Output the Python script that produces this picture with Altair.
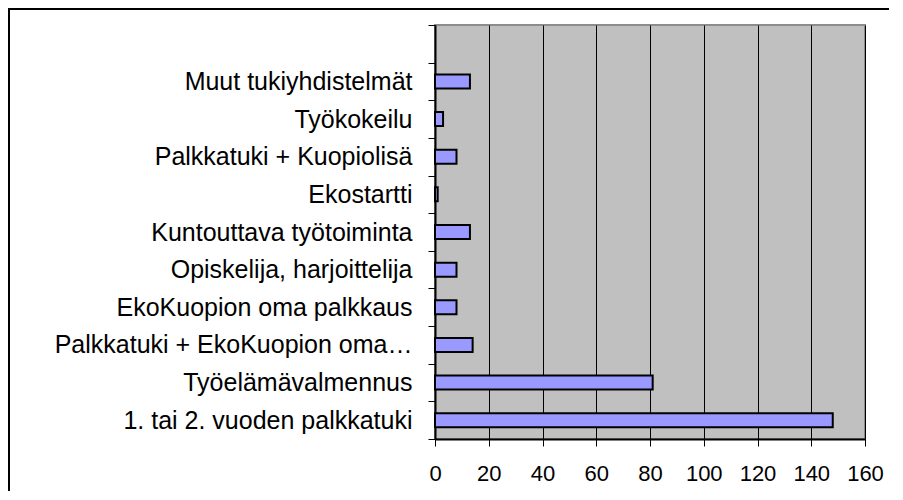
import altair as alt
import pandas as pd

categories = [
    "Muut tukiyhdistelmät",
    "Työkokeilu",
    "Palkkatuki + Kuopiolisä",
    "Ekostartti",
    "Kuntouttava työtoiminta",
    "Opiskelija, harjoittelija",
    "EkoKuopion oma palkkaus",
    "Palkkatuki + EkoKuopion oma palkkaus",
    "Työelämävalmennus",
    "1. tai 2. vuoden palkkatuki",
]
values = [13, 3, 8, 1, 13, 8, 8, 14, 81, 148]
x_ticks = [0, 20, 40, 60, 80, 100, 120, 140, 160]

df = pd.DataFrame({"kategoria": categories, "arvo": values})
domain = [" "] + categories

FONT = "Liberation Sans"

bars = alt.Chart(df).mark_bar(
    height=14, fill="#9999ff", stroke="black", strokeWidth=2
).encode(
    x=alt.X(
        "arvo:Q",
        scale=alt.Scale(domain=[0, 160], nice=False, zero=True),
        axis=alt.Axis(
            values=x_ticks, title=None, grid=True, gridColor="black", gridWidth=1,
            domainColor="black", domainWidth=2, tickColor="black", tickSize=7,
            labelFontSize=22, labelFont=FONT, labelColor="black", labelPadding=17,
            labelFlush=False,
        ),
    ),
    y=alt.Y(
        "kategoria:N",
        sort=domain,
        scale=alt.Scale(domain=domain, paddingInner=0, paddingOuter=0),
        axis=alt.Axis(
            title=None, tickBand="extent", domainColor="black", domainWidth=2,
            tickColor="black", tickSize=7, labelFontSize=25, labelFont=FONT,
            labelColor="black", labelPadding=16, labelLimit=360, grid=False,
        ),
    ),
)

frame_df = pd.DataFrame({"a": [0]})
frame = alt.Chart(frame_df).mark_rect(
    fill="transparent", stroke="black", strokeWidth=2
).encode(
    x=alt.value(-426), x2=alt.value(500), y=alt.value(-16), y2=alt.value(520)
)

chart = alt.layer(frame, bars).properties(
    width=430,
    height=414,
    autosize=alt.AutoSizeParams(type="none"),
    padding={"left": 427, "top": 17, "right": 24, "bottom": 52},
).configure(
    background="white",
).configure_view(
    fill="#c0c0c0", stroke="#8c8c8c", strokeWidth=2
)

chart.save("out.html", embed_options={"renderer": "svg", "actions": False})
